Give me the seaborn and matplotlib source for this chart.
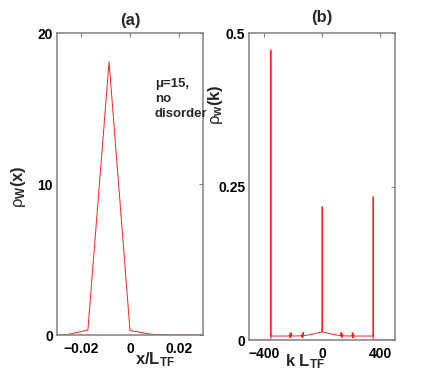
import matplotlib

matplotlib.use("Agg")
import matplotlib.pyplot as plt
import seaborn as sns

# panel (a): Wigner density in real space
x_a = [-0.0345, -0.026, -0.0173, -0.0086, 0.0, 0.0086, 0.0173, 0.026, 0.0345]
rho_a = [0.0, 0.02, 0.33, 18.1, 0.3, 0.05, 0.0, 0.0, 0.0]

# panel (b): Wigner density in momentum space
k_b = [-500, -352, -352, -352,
       -232, -226, -223, -220, -217, -214, -211, -205,
       -148, -142, -139, -136, -133, -130, -127, -121,
       -80, -40, -15, 0, 0, 0, 15, 40, 80,
       121, 127, 130, 133, 136, 139, 142, 148,
       198, 204, 207, 210, 213, 216, 219, 225,
       350, 350, 350, 500]
rho_b = [0, 0, 0.472, 0.0065,
         0.0065, 0.0075, 0.0045, 0.0105, 0.0035, 0.012, 0.0065, 0.0065,
         0.0068, 0.0078, 0.0048, 0.0108, 0.0038, 0.0125, 0.0070, 0.0072,
         0.009, 0.011, 0.0125, 0.0135, 0.217, 0.0135, 0.0125, 0.011, 0.009,
         0.0072, 0.0070, 0.0125, 0.0038, 0.0108, 0.0048, 0.0078, 0.0068,
         0.0065, 0.0065, 0.012, 0.0035, 0.0105, 0.0045, 0.0075, 0.0065,
         0.0065, 0.233, 0, 0]

xticks_a = [-0.02, 0, 0.02]
xticklabels_a = ["\u22120.02", "0", "0.02"]
yticks_a = [0, 10, 20]
yticklabels_a = ["0", "10", "20"]
xticks_b = [-400, 0, 400]
xticklabels_b = ["\u2212400", "0", "400"]
yticks_b = [0, 0.25, 0.5]
yticklabels_b = ["0", "0.25", "0.5"]

sns.set_style("white")
plt.rcParams["font.family"] = ["Liberation Sans", "DejaVu Sans"]
plt.rcParams["mathtext.fontset"] = "custom"
plt.rcParams["mathtext.rm"] = "Liberation Sans"
plt.rcParams["mathtext.bf"] = "Liberation Sans:bold"
plt.rcParams["mathtext.it"] = "Liberation Sans:italic"

GRAY = "#808080"
RED = "#ff2020"

fig = plt.figure(figsize=(4.36, 3.82), dpi=100)
ax_a = fig.add_axes([0.1307, 0.1230, 0.3349, 0.7906])
ax_b = fig.add_axes([0.5718, 0.1099, 0.3342, 0.8037])

sns.lineplot(x=x_a, y=rho_a, sort=False, estimator=None, color=RED, lw=0.7, ax=ax_a)
sns.lineplot(x=k_b, y=rho_b, sort=False, estimator=None, color=RED, lw=0.7, ax=ax_b)

ax_a.set_xlim(-0.03, 0.03)
ax_a.set_ylim(0, 20)
ax_b.set_xlim(-500, 500)
ax_b.set_ylim(0, 0.5)

panels = [
    (ax_a, xticks_a, xticklabels_a, yticks_a, yticklabels_a),
    (ax_b, xticks_b, xticklabels_b, yticks_b, yticklabels_b),
]
for ax, xt, xtl, yt, ytl in panels:
    ax.set_xticks(xt)
    ax.set_xticklabels(xtl, fontsize=10, fontweight="bold")
    ax.set_yticks(yt)
    ax.set_yticklabels(ytl, fontsize=10, fontweight="bold")
    ax.tick_params(direction="in", length=3, width=0.8, color=GRAY,
                   top=True, right=True, labelcolor="black")
    ax.tick_params(axis="x", pad=5)
    ax.tick_params(axis="y", pad=3)
    for sp in ax.spines.values():
        sp.set_color(GRAY)
        sp.set_linewidth(1.1)

ax_a.set_title("(a)", fontsize=12, fontweight="bold", pad=6)
ax_b.set_title("(b)", fontsize=12, fontweight="bold", pad=8)

ax_a.set_ylabel(r"$\mathrm{\rho}_\mathbf{W}$(x)", fontsize=12, fontweight="bold")
ax_a.yaxis.set_label_coords(-0.20, 0.49)
ax_b.set_ylabel(r"$\mathrm{\rho}_\mathbf{w}$(k)", fontsize=12, fontweight="bold")
ax_b.yaxis.set_label_coords(-0.170, 0.765)

ax_a.set_xlabel(r"x/L$_\mathbf{TF}$", fontsize=12, fontweight="bold")
ax_a.xaxis.set_label_coords(0.671, -0.052)
ax_b.set_xlabel(r"k L$_\mathbf{TF}$", fontsize=12, fontweight="bold")
ax_b.xaxis.set_label_coords(0.382, -0.040)

ax_a.text(0.671, 0.85, "\u03bc=15,\nno\ndisorder", transform=ax_a.transAxes,
          ha="left", va="top", fontsize=9.5, fontweight="bold", linespacing=1.3)

fig.savefig("out.png", dpi=100)
plt.close(fig)
